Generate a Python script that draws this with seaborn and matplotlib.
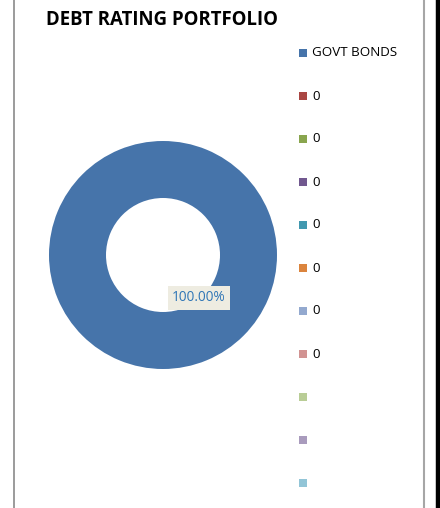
import matplotlib
matplotlib.use("Agg")
import matplotlib.pyplot as plt
import seaborn as sns
from matplotlib.patches import Rectangle
from matplotlib.lines import Line2D

categories = ["GOVT BONDS", "0", "0", "0", "0", "0", "0", "0", "", "", ""]
values = [100, 0, 0, 0, 0, 0, 0, 0, 0, 0, 0]
colors = ["#4674AA", "#AA4643", "#89A54E", "#71588F", "#4198AF", "#DB843D",
          "#93A9CF", "#D19392", "#B9CD96", "#A99BBD", "#92C5D7"]
title = "DEBT RATING PORTFOLIO"

sns.set_theme(style="white")
plt.rcParams['font.family'] = ['Open Sans', 'DejaVu Sans']

W, H = 440, 508
fig = plt.figure(figsize=(W / 100, H / 100), dpi=100)
fig.patch.set_facecolor("white")

# pie axes
cx, cy, r = 163, 255, 114
ax = fig.add_axes([(cx - r) / W, 1 - (cy + r) / H, 2 * r / W, 2 * r / H])
wedges, _ = ax.pie(values, colors=colors, startangle=90, counterclock=False,
                   radius=1.0, wedgeprops=dict(width=0.5, edgecolor="none"))
ax.set_xlim(-1, 1)
ax.set_ylim(-1, 1)
ax.set_aspect("equal")
ax.axis("off")

share = values[0] / sum(values)
ax.text(0.316, -0.377, f"{share:.2%}", ha="center", va="center", fontsize=9.8,
        color="#2E75B6",
        bbox=dict(boxstyle="square,pad=0.3", fc="#EEECE1", ec="none"))

# title
fig.text(46 / W, 1 - 20 / H, title, fontsize=13.4, fontweight="bold",
         ha="left", va="center", color="black")

# legend
y0, dy = 53, 43
for i, (lab, col) in enumerate(zip(categories, colors)):
    y = y0 + i * dy
    fig.patches.append(Rectangle((299 / W, 1 - (y + 4) / H), 8 / W, 8 / H,
                                 transform=fig.transFigure, fc=col, ec="none"))
    if lab:
        fig.text(312 / W, 1 - y / H, lab, fontsize=9.6, ha="left",
                 va="center", color="black")

# border lines
fig.add_artist(Line2D([13.5 / W, 13.5 / W], [0, 1], transform=fig.transFigure,
                      color="#8A8A8A", lw=1.2))
fig.add_artist(Line2D([423.5 / W, 423.5 / W], [0, 1], transform=fig.transFigure,
                      color="#A6A6A6", lw=1.5))
fig.add_artist(Line2D([438 / W, 438 / W], [0, 1], transform=fig.transFigure,
                      color="black", lw=3.2))

fig.savefig("out.png", dpi=100)
